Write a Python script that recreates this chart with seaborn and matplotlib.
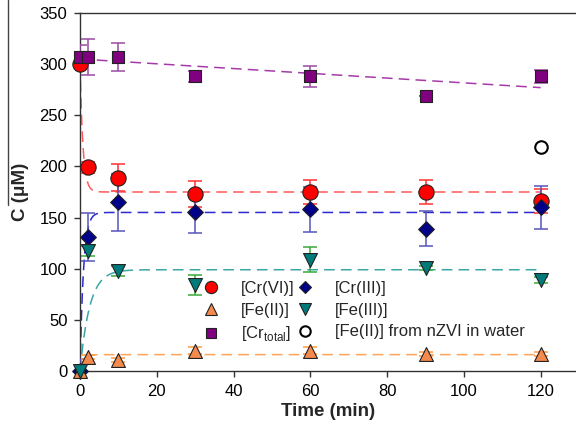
import numpy as np
import pandas as pd
import matplotlib
matplotlib.use("Agg")
import matplotlib.pyplot as plt
from matplotlib.lines import Line2D
import seaborn as sns

sns.set_theme(style="ticks")
plt.rcParams["font.family"] = ["Liberation Sans", "DejaVu Sans"]
plt.rcParams["mathtext.fontset"] = "custom"
plt.rcParams["mathtext.rm"] = "Liberation Sans"

# Sampling times (min)
time = [0, 2, 10, 30, 60, 90, 120]

# Measured concentrations (uM) and standard deviations
cr6 = [300, 199, 189, 173, 175, 175, 166]
cr6_err = [5, 5, 13, 13, 12, 12, 12]
cr3 = [0, 131, 165, 155, 158, 139, 160]
cr3_err = [12, 23, 28, 20, 22, 17, 21]
fe2 = [0, 14, 11, 20, 20, 17, 17]
fe2_err = [0, 2, 2, 3, 3, 2, 2]
fe3 = [0, 117, 98, 84, 109, 101, 89]
fe3_err = [0, 5, 5, 10, 12, 2, 3]
cr_total = [307, 307, 307, 288, 288, 269, 288]
cr_total_err = [12, 18, 14, 5, 10, 0, 6]

# Fe(II) released by nZVI in water
nzvi_time = [120]
nzvi_fe2 = [219]

# Kinetic model parameters for the dashed fit curves
cr6_c0, cr6_inf, cr6_k = 300, 175, 1.3
cr3_inf, cr3_k = 155, 1.1
fe3_inf, fe3_k = 99, 0.4
fe2_inf, fe2_k = 16, 1.2
crt_c0, crt_slope = 305, -0.233

fig = plt.figure(figsize=(5.76, 4.26), dpi=100)
ax = fig.add_axes([80 / 576, 1 - 371 / 426, 1 - 80 / 576, (371 - 13) / 426])

t_fit = np.linspace(0, 120, 600)
fits = pd.DataFrame({
    "t": t_fit,
    "cr6": cr6_inf + (cr6_c0 - cr6_inf) * np.exp(-cr6_k * t_fit),
    "cr3": cr3_inf * (1 - np.exp(-cr3_k * t_fit)),
    "fe3": fe3_inf * (1 - np.exp(-fe3_k * t_fit)),
    "fe2": fe2_inf * (1 - np.exp(-fe2_k * t_fit)),
    "crt": crt_c0 + crt_slope * t_fit,
})
fit_colors = {"cr6": "#ff5a5a", "cr3": "#2a2ad0", "fe3": "#3aa6a6",
              "fe2": "#ffa55a", "crt": "#a53aa8"}
for key, col in fit_colors.items():
    sns.lineplot(data=fits, x="t", y=key, ax=ax, color=col, lw=1.1,
                 dashes=False, zorder=2, linestyle=(0, (7, 4)))

series = [
    ("[Cr(VI)]", cr6, cr6_err, "o", "#ff0000", "#ff3030", 11),
    ("[Cr(III)]", cr3, cr3_err, "D", "#000088", "#5555bb", 8),
    ("[Fe(II)]", fe2, fe2_err, "^", "#f58a4c", "#ff9a40", 10),
    ("[Fe(III)]", fe3, fe3_err, "v", "#007b7b", "#3aa83a", 10),
    ("[Cr$_{\\mathregular{total}}$]", cr_total, cr_total_err, "s", "#800080", "#9a4aa0", 8.5),
]
handles = {}
for label, vals, errs, mk, fc, ec, ms in series:
    ax.errorbar(time, vals, yerr=errs, fmt="none", ecolor=ec, elinewidth=1.1,
                capsize=5, capthick=1.1, zorder=3)
    df = pd.DataFrame({"t": time, "c": vals})
    sns.scatterplot(data=df, x="t", y="c", ax=ax, marker=mk, s=ms ** 2,
                    color=fc, edgecolor="#222222", linewidth=0.8, zorder=4,
                    clip_on=False)
    handles[label] = Line2D([], [], ls="none", marker=mk, markersize=ms * 0.8,
                            markerfacecolor=fc, markeredgecolor="#222222",
                            markeredgewidth=0.8)

sns.scatterplot(x=nzvi_time, y=nzvi_fe2, ax=ax, marker="o", s=9 ** 2,
                facecolor="white", edgecolor="black", linewidth=1.5, zorder=4)
handles["[Fe(II)] from nZVI in water"] = Line2D(
    [], [], ls="none", marker="o", markersize=7.5, markerfacecolor="white",
    markeredgecolor="black", markeredgewidth=1.5)

order = ["[Cr(VI)]", "[Fe(II)]", "[Cr$_{\\mathregular{total}}$]",
         "[Cr(III)]", "[Fe(III)]", "[Fe(II)] from nZVI in water"]
ax.legend([handles[k] for k in order], order, ncol=2, frameon=False,
          fontsize=12, loc="upper left", bbox_to_anchor=(0.23, 0.27),
          handletextpad=1.2, columnspacing=0.05, labelspacing=0.4,
          borderaxespad=0, handlelength=1.2)

ax.set_xlim(0, 129.2)
ax.set_ylim(0, 350)
ax.set_xticks([0, 20, 40, 60, 80, 100, 120])
ax.set_yticks(np.arange(0, 351, 50))
ax.tick_params(labelsize=12, direction="out", length=4, width=1, pad=5,
               color="#333333", labelcolor="black")
for side in ["left", "bottom", "top"]:
    ax.spines[side].set_color("#333333")
    ax.spines[side].set_linewidth(1.0)
ax.spines["right"].set_visible(False)
ax.set_xlabel("Time (min)", fontsize=13.5, fontweight="bold", labelpad=3)
ax.set_ylabel("C (\u03bcM)", fontsize=13.5, fontweight="bold", labelpad=8)

fig.add_artist(Line2D([8 / 576, 8 / 576], [1 - 205 / 426, 1.0],
                      transform=fig.transFigure, color="#444444", lw=1.0))

fig.savefig("out.png", dpi=100)
